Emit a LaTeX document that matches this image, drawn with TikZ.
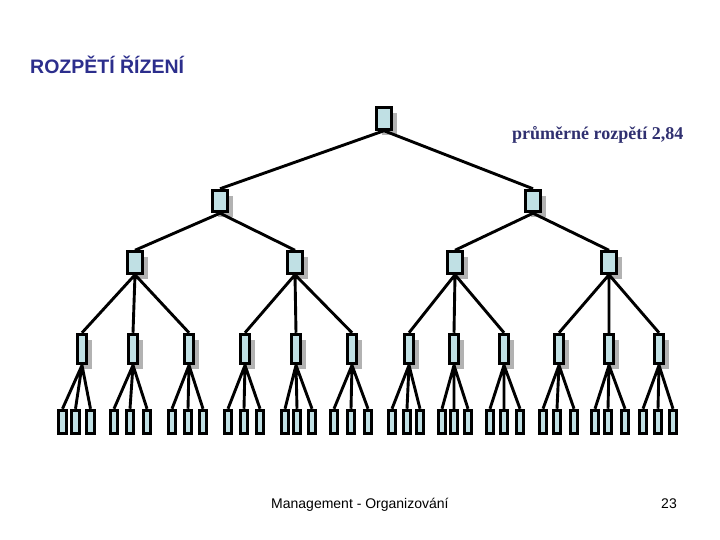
\documentclass[tikz,border=0pt]{standalone}
\usepackage{fontspec}
\setmainfont{Liberation Serif}
\setsansfont{Liberation Sans}
\usepackage{tikz}
\usetikzlibrary{shadows}
\definecolor{boxfill}{RGB}{192,224,228}
\definecolor{titleblue}{RGB}{44,46,140}
\definecolor{notenavy}{RGB}{48,48,112}
\tikzset {
  % basic box of the chart
  main/.style = {draw, rectangle, line width=3pt, fill=boxfill, inner sep=0pt},
  % boxes of the upper three levels
  big/.style = {main, minimum width=14.5pt, minimum height=21.5pt,
    general shadow={shadow xshift=5.5pt, shadow yshift=-5.5pt, fill=black!30}},
  % boxes of the fourth level
  tall/.style = {main, minimum width=9.5pt, minimum height=29.5pt,
    general shadow={shadow xshift=5.5pt, shadow yshift=-5.5pt, fill=black!30}},
  % boxes of the lowest level
  leaf/.style = {main, minimum width=7.5pt, minimum height=23.5pt},
  % lines between the levels
  link/.style = {line width=2.9pt},
  % texts
  label/.style = {anchor=base west, inner sep=0pt},
}

\begin{document}
\begin{tikzpicture}[x=1pt, y=-1pt]
        \useasboundingbox (0,0) rectangle (720,540);

        \node[label, font=\sffamily\bfseries\fontsize{19.5}{23}\selectfont, text=titleblue] (title) at (30,73.5) {ROZPĚTÍ ŘÍZENÍ};
        \node[label, font=\bfseries\fontsize{18}{21}\selectfont, text=notenavy] (note) at (512,140) {průměrné rozpětí 2,84};

        % first level
        \node[big] (r) at (384,118.5) {};

        % second level
        \node[big] (a1) at (220,201) {};
        \node[big] (a2) at (533,201) {};

        % third level
        \node[big] (b1) at (135,262.5) {};
        \node[big] (b2) at (295,262.5) {};
        \node[big] (b3) at (455,262.5) {};
        \node[big] (b4) at (609,262.5) {};

        % fourth level
        \node[tall] (c1) at (82,349) {};
        \node[tall] (c2) at (133,349) {};
        \node[tall] (c3) at (189,349) {};
        \node[tall] (c4) at (245,349) {};
        \node[tall] (c5) at (296,349) {};
        \node[tall] (c6) at (352,349) {};
        \node[tall] (c7) at (409,349) {};
        \node[tall] (c8) at (454,349) {};
        \node[tall] (c9) at (504,349) {};
        \node[tall] (c10) at (559,349) {};
        \node[tall] (c11) at (609,349) {};
        \node[tall] (c12) at (659,349) {};

        % lowest level
        \node[leaf] (d1) at (62.5,422) {};
        \node[leaf] (d2) at (75.5,422) {};
        \node[leaf] (d3) at (90.5,422) {};
        \node[leaf] (d4) at (114,422) {};
        \node[leaf] (d5) at (130,422) {};
        \node[leaf] (d6) at (147,422) {};
        \node[leaf] (d7) at (172,422) {};
        \node[leaf] (d8) at (188,422) {};
        \node[leaf] (d9) at (203,422) {};
        \node[leaf] (d10) at (228,422) {};
        \node[leaf] (d11) at (244,422) {};
        \node[leaf] (d12) at (260,422) {};
        \node[leaf] (d13) at (285,422) {};
        \node[leaf] (d14) at (297,422) {};
        \node[leaf] (d15) at (312,422) {};
        \node[leaf] (d16) at (334,422) {};
        \node[leaf] (d17) at (351,422) {};
        \node[leaf] (d18) at (368,422) {};
        \node[leaf] (d19) at (392,422) {};
        \node[leaf] (d20) at (407,422) {};
        \node[leaf] (d21) at (420,422) {};
        \node[leaf] (d22) at (442,422) {};
        \node[leaf] (d23) at (454,422) {};
        \node[leaf] (d24) at (468,422) {};
        \node[leaf] (d25) at (490,422) {};
        \node[leaf] (d26) at (504,422) {};
        \node[leaf] (d27) at (520,422) {};
        \node[leaf] (d28) at (543,422) {};
        \node[leaf] (d29) at (557,422) {};
        \node[leaf] (d30) at (574,422) {};
        \node[leaf] (d31) at (595,422) {};
        \node[leaf] (d32) at (608,422) {};
        \node[leaf] (d33) at (625,422) {};
        \node[leaf] (d34) at (643,422) {};
        \node[leaf] (d35) at (658,422) {};
        \node[leaf] (d36) at (673,422) {};

        \draw[link] (r.south) -- (a1.north) (r.south) -- (a2.north);
        \draw[link] (a1.south) -- (b1.north) (a1.south) -- (b2.north);
        \draw[link] (a2.south) -- (b3.north) (a2.south) -- (b4.north);

        \draw[link] (b1.south) -- (c1.north) (b1.south) -- (c2.north) (b1.south) -- (c3.north);
        \draw[link] (b2.south) -- (c4.north) (b2.south) -- (c5.north) (b2.south) -- (c6.north);
        \draw[link] (b3.south) -- (c7.north) (b3.south) -- (c8.north) (b3.south) -- (c9.north);
        \draw[link] (b4.south) -- (c10.north) (b4.south) -- (c11.north) (b4.south) -- (c12.north);

        \draw[link] (c1.south) -- (d1.north) (c1.south) -- (d2.north) (c1.south) -- (d3.north);
        \draw[link] (c2.south) -- (d4.north) (c2.south) -- (d5.north) (c2.south) -- (d6.north);
        \draw[link] (c3.south) -- (d7.north) (c3.south) -- (d8.north) (c3.south) -- (d9.north);
        \draw[link] (c4.south) -- (d10.north) (c4.south) -- (d11.north) (c4.south) -- (d12.north);
        \draw[link] (c5.south) -- (d13.north) (c5.south) -- (d14.north) (c5.south) -- (d15.north);
        \draw[link] (c6.south) -- (d16.north) (c6.south) -- (d17.north) (c6.south) -- (d18.north);
        \draw[link] (c7.south) -- (d19.north) (c7.south) -- (d20.north) (c7.south) -- (d21.north);
        \draw[link] (c8.south) -- (d22.north) (c8.south) -- (d23.north) (c8.south) -- (d24.north);
        \draw[link] (c9.south) -- (d25.north) (c9.south) -- (d26.north) (c9.south) -- (d27.north);
        \draw[link] (c10.south) -- (d28.north) (c10.south) -- (d29.north) (c10.south) -- (d30.north);
        \draw[link] (c11.south) -- (d31.north) (c11.south) -- (d32.north) (c11.south) -- (d33.north);
        \draw[link] (c12.south) -- (d34.north) (c12.south) -- (d35.north) (c12.south) -- (d36.north);

        \node[label, font=\sffamily\fontsize{14}{17}\selectfont] (footer) at (271,508) {Management - Organizování};
        \node[label, anchor=base east, font=\sffamily\fontsize{14}{17}\selectfont] (page) at (677,508) {23};
\end{tikzpicture}
\end{document}
